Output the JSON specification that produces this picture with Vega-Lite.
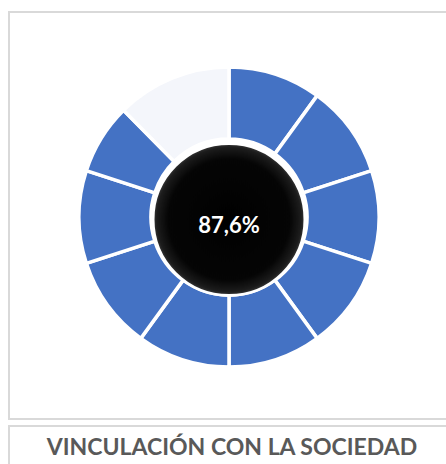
{
  "$schema": "https://vega.github.io/schema/vega-lite/v6.json",
  "padding": {"left": 8, "top": 11, "right": 0, "bottom": 0},
  "background": "white",
  "spacing": 5,
  "config": {
    "view": {"stroke": "#d9d9d9", "strokeWidth": 2}
  },
  "vconcat": [
    {
      "width": 440,
      "height": 407,
      "layer": [
        {
          "data": {"values": [{"fx": 0, "fy": 0}]},
          "mark": {"type": "point", "opacity": 0},
          "encoding": {
            "x": {"field": "fx", "type": "quantitative", "axis": null},
            "y": {"field": "fy", "type": "quantitative", "axis": null}
          }
        },
        {
          "data": {
            "values": [
              {"seg": 1, "estado": "logrado", "valor": 10},
              {"seg": 2, "estado": "logrado", "valor": 10},
              {"seg": 3, "estado": "logrado", "valor": 10},
              {"seg": 4, "estado": "logrado", "valor": 10},
              {"seg": 5, "estado": "logrado", "valor": 10},
              {"seg": 6, "estado": "logrado", "valor": 10},
              {"seg": 7, "estado": "logrado", "valor": 10},
              {"seg": 8, "estado": "logrado", "valor": 10},
              {"seg": 9, "estado": "logrado", "valor": 7.6},
              {"seg": 10, "estado": "pendiente", "valor": 12.4}
            ]
          },
          "mark": {"type": "arc", "innerRadius": 78, "outerRadius": 150, "stroke": "white", "strokeWidth": 3.5, "yOffset": 1.5},
          "encoding": {
            "theta": {"field": "valor", "type": "quantitative", "stack": true},
            "order": {"field": "seg", "type": "quantitative"},
            "color": {
              "field": "estado",
              "type": "nominal",
              "scale": {"domain": ["logrado", "pendiente"], "range": ["#4472c4", "#f4f6fb"]},
              "legend": null
            }
          }
        },
        {
          "data": {"values": [{"c": 1}]},
          "mark": {
            "type": "arc",
            "innerRadius": 0,
            "outerRadius": 76,
            "stroke": "white",
            "strokeWidth": 3,
            "yOffset": 4,
            "fill": {
              "gradient": "radial",
              "x1": 0.5, "y1": 0.5, "r1": 0,
              "x2": 0.5, "y2": 0.5, "r2": 0.5,
              "stops": [
                {"offset": 0, "color": "#000000"},
                {"offset": 0.8, "color": "#050505"},
                {"offset": 0.95, "color": "#1c1c1c"},
                {"offset": 1, "color": "#3a3a3a"}
              ]
            }
          },
          "encoding": {
            "theta": {"field": "c", "type": "quantitative"}
          }
        },
        {
          "data": {"values": [{"etiqueta": "87,6%"}]},
          "mark": {"type": "text", "font": "Lato", "fontWeight": "bold", "fontSize": 22, "color": "white", "yOffset": 10},
          "encoding": {
            "text": {"field": "etiqueta", "type": "nominal"}
          }
        }
      ],
      "resolve": {"scale": {"theta": "independent"}}
    },
    {
      "width": 440,
      "height": 44,
      "layer": [
        {
          "data": {"values": [{"fx": 0, "fy": 0}]},
          "mark": {"type": "point", "opacity": 0},
          "encoding": {
            "x": {"field": "fx", "type": "quantitative", "axis": null},
            "y": {"field": "fy", "type": "quantitative", "axis": null}
          }
        },
        {
          "data": {"values": [{"titulo": "VINCULACIÓN CON LA SOCIEDAD"}]},
          "mark": {"type": "text", "font": "Lato", "fontWeight": "bold", "fontSize": 23, "color": "#595959", "dx": 3},
          "encoding": {
            "text": {"field": "titulo", "type": "nominal"}
          }
        }
      ]
    }
  ]
}
